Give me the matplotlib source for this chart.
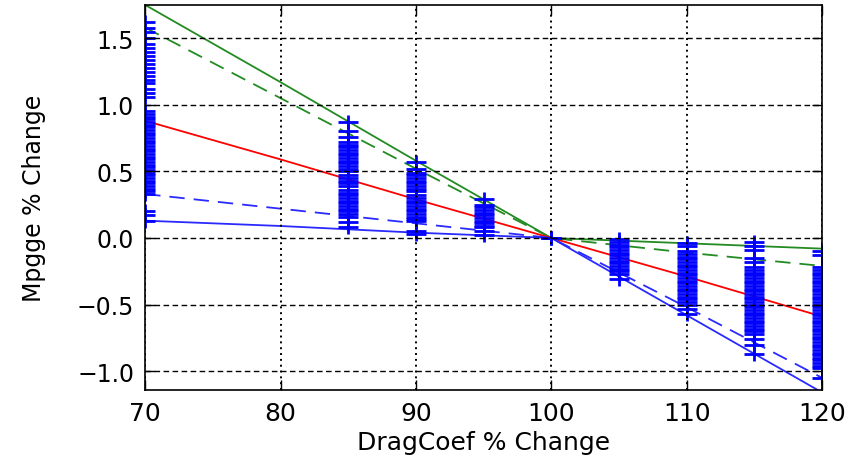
import matplotlib
matplotlib.use('Agg')
import matplotlib.pyplot as plt
from matplotlib.path import Path

# drag coefficient change (%) where the fitted lines are read
line_x = [70, 80, 90, 100, 110, 120]
green_solid = [1.75, 1.17, 0.58, 0.0, -0.04, -0.08]
green_dash = [1.58, 1.05, 0.52, 0.0, -0.11, -0.21]
red_solid = [0.88, 0.59, 0.29, 0.0, -0.29, -0.59]
blue_dash = [0.33, 0.22, 0.11, 0.0, -0.52, -1.05]
blue_solid = [0.13, 0.09, 0.04, 0.0, -0.58, -1.16]

# individual runs (blue crosses), one list per drag coefficient level
pts_70 = [1.62, 1.58, 1.55, 1.50, 1.46, 1.43, 1.40, 1.37, 1.34, 1.31, 1.28, 1.25,
          1.22, 1.19, 1.16, 1.12, 1.09, 1.06, 0.95, 0.93, 0.91, 0.89, 0.87, 0.85,
          0.83, 0.81, 0.79, 0.77, 0.75, 0.73, 0.71, 0.69, 0.67, 0.65, 0.63, 0.61,
          0.59, 0.57, 0.55, 0.53, 0.51, 0.49, 0.47, 0.45, 0.43, 0.41, 0.39, 0.37,
          0.35, 0.33, 0.20, 0.17, 0.13]
pts_85 = [0.87, 0.80, 0.76, 0.72, 0.70, 0.68, 0.66, 0.64, 0.62, 0.60, 0.58, 0.56,
          0.54, 0.52, 0.50, 0.47, 0.45, 0.43, 0.41, 0.39, 0.36, 0.34, 0.32, 0.30,
          0.28, 0.26, 0.24, 0.22, 0.20, 0.18, 0.16, 0.12, 0.08]
pts_90 = [0.57, 0.52, 0.49, 0.47, 0.45, 0.43, 0.41, 0.39, 0.37, 0.35, 0.32, 0.30,
          0.28, 0.26, 0.24, 0.22, 0.20, 0.18, 0.16, 0.14, 0.13, 0.05, 0.03]
pts_95 = [0.29, 0.25, 0.23, 0.21, 0.19, 0.17, 0.15, 0.13, 0.11, 0.09, 0.08, 0.05, 0.02]
pts_100 = [0.0, 0.0, 0.0]
pts_105 = [-0.01, -0.03, -0.05, -0.07, -0.09, -0.11, -0.13, -0.15, -0.17, -0.19,
           -0.21, -0.23, -0.25, -0.27, -0.31]
pts_110 = [-0.04, -0.06, -0.10, -0.12, -0.14, -0.16, -0.18, -0.20, -0.22, -0.24,
           -0.26, -0.28, -0.30, -0.32, -0.34, -0.36, -0.38, -0.40, -0.42, -0.44,
           -0.46, -0.48, -0.50, -0.53, -0.57]
pts_115 = [-0.03, -0.06, -0.09, -0.15, -0.18, -0.22, -0.24, -0.26, -0.28, -0.30,
           -0.32, -0.34, -0.36, -0.38, -0.40, -0.42, -0.44, -0.46, -0.48, -0.50,
           -0.52, -0.54, -0.56, -0.58, -0.60, -0.62, -0.64, -0.66, -0.68, -0.70,
           -0.72, -0.76, -0.80, -0.87]
pts_120 = [-0.10, -0.13, -0.22, -0.24, -0.26, -0.28, -0.30, -0.32, -0.34, -0.36,
           -0.38, -0.40, -0.42, -0.44, -0.46, -0.48, -0.50, -0.52, -0.54, -0.56,
           -0.58, -0.60, -0.62, -0.64, -0.66, -0.68, -0.70, -0.72, -0.74, -0.76,
           -0.78, -0.80, -0.82, -0.84, -0.86, -0.88, -0.90, -0.92, -0.94, -0.96,
           -0.98, -1.05]
pts = {70: pts_70, 85: pts_85, 90: pts_90, 95: pts_95, 100: pts_100,
       105: pts_105, 110: pts_110, 115: pts_115, 120: pts_120}

# a "+" that is wider than it is tall, like the stretched original
wide_plus = Path([(-1, 0), (1, 0), (0, -0.65), (0, 0.65)],
                 [Path.MOVETO, Path.LINETO, Path.MOVETO, Path.LINETO])

fig = plt.figure(figsize=(8.59, 4.56), dpi=100)
ax = fig.add_axes([0.169, 0.143, 0.788, 0.844])

dash = (8.5, 5)
ax.plot(line_x, green_solid, color='#228b22', lw=1.3)
ax.plot(line_x, green_dash, color='#228b22', lw=1.3, dashes=dash)
ax.plot(line_x, red_solid, color='red', lw=1.3)
ax.plot(line_x, blue_dash, color='#2a2aff', lw=1.3, dashes=dash)
ax.plot(line_x, blue_solid, color='#2a2aff', lw=1.3)

for xv, ys in pts.items():
    ax.plot([xv] * len(ys), ys, linestyle='none', marker=wide_plus, markersize=15,
            markeredgewidth=2, color='blue', markerfacecolor='none')

ax.set_xlim(70, 120)
ax.set_ylim(-1.14, 1.75)
ax.set_yticks([-1.0, -0.5, 0.0, 0.5, 1.0, 1.5])
ax.set_xticks([70, 80, 90, 100, 110, 120])

ax.set_axisbelow(False)
ax.yaxis.grid(True, color='black', linestyle=(0, (4, 2.5)), linewidth=1.0)
ax.xaxis.grid(True, color='black', linestyle=(0, (1, 2)), linewidth=1.4)

ax.tick_params(direction='in', length=7, width=1, top=True, right=True, pad=8)
ax.tick_params(axis='x', labelsize=18)
ax.tick_params(axis='y', labelsize=17)
for s in ax.spines.values():
    s.set_linewidth(1.2)

ax.set_xlabel('DragCoef % Change', fontsize=18, labelpad=4)
ax.set_ylabel('Mpgge % Change', fontsize=17, labelpad=22)

fig.savefig('out.png', dpi=100)
